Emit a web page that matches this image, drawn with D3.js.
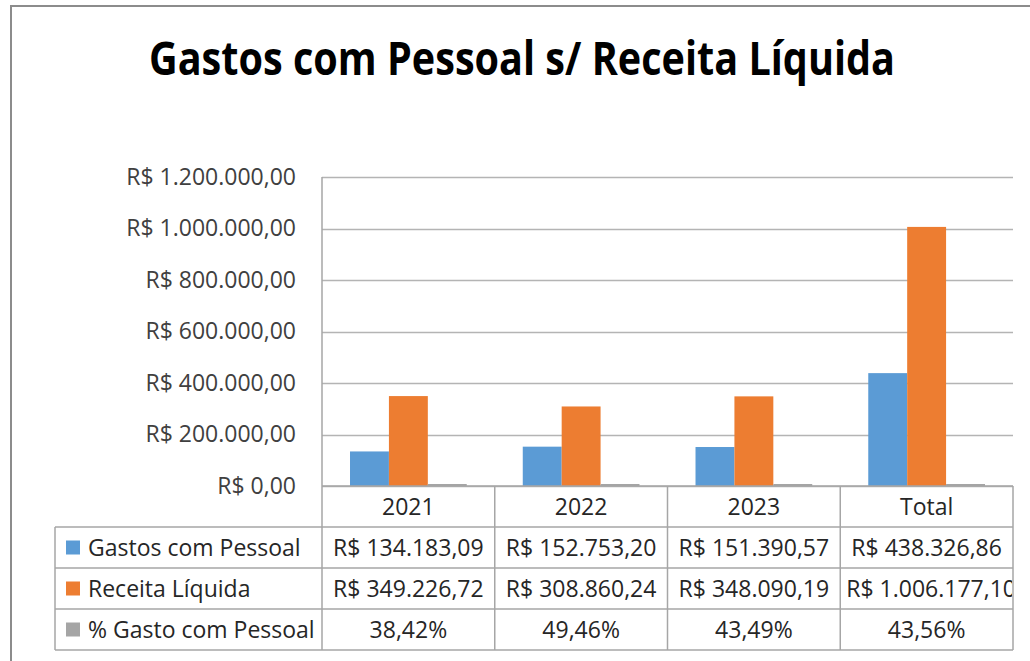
<!DOCTYPE html>
<html>
<head>
<meta charset="utf-8">
<script src="https://cdn.jsdelivr.net/npm/d3@7"></script>
<style>
  body { margin: 0; background: #fff; }
  svg { display: block; }
  text { font-family: "Open Sans", "Noto Sans", sans-serif; }
</style>
</head>
<body>
<svg id="chart"></svg>
<script>
// Dados
const categories = ['2021', '2022', '2023', 'Total'];
const seriesNames = ['Gastos com Pessoal', 'Receita Líquida', '% Gasto com Pessoal'];
const gastos = [134183.09, 152753.20, 151390.57, 438326.86];
const receita = [349226.72, 308860.24, 348090.19, 1006177.1];
const pctGasto = [0.3842, 0.4946, 0.4349, 0.4356];
const yTicks = [0, 200000, 400000, 600000, 800000, 1000000, 1200000];
const colors = ['#5B9BD5', '#ED7D31', '#A5A5A5'];

const W = 1030, H = 661;
const svg = d3.select('#chart').attr('width', W).attr('height', H);

const ptBR = d3.formatLocale({ decimal: ',', thousands: '.', grouping: [3], currency: ['R$ ', ''] });
const fmtMoney = ptBR.format('$,.2f');
const fmtPct = ptBR.format('.2%');

const plot = { left: 322, right: 1013, top: 177, bottom: 486 };
const tableLeft = 55, tableBottom = 650;

// Moldura externa
svg.append('path')
    .attr('d', `M11,${H} L11,6 L${W},6`)
    .attr('fill', 'none')
    .attr('stroke', '#8c8c8c')
    .attr('stroke-width', 2);

// Título
svg.append('text')
    .attr('x', 522)
    .attr('y', 75)
    .attr('text-anchor', 'middle')
    .attr('textLength', 746)
    .attr('lengthAdjust', 'spacingAndGlyphs')
    .style('font-family', '"Liberation Sans Narrow", "Open Sans", sans-serif')
    .style('font-size', '46px')
    .style('font-weight', 'bold')
    .style('fill', '#000')
    .text('Gastos com Pessoal s/ Receita Líquida');

// Escalas
const x0 = d3.scaleBand().domain(categories).range([plot.left, plot.right]);
const gap = 1.44;
const bw = x0.bandwidth();
const pad = bw * (gap / 2) / (3 + gap);
const x1 = d3.scaleBand().domain(d3.range(3)).range([pad, bw - pad]);
const y = d3.scaleLinear().domain([0, 1200000]).range([plot.bottom, plot.top]);

// Grid
svg.append('g')
    .selectAll('line')
    .data(yTicks)
    .enter()
    .append('line')
    .attr('x1', plot.left)
    .attr('x2', plot.right)
    .attr('y1', d => Math.round(y(d)) + 0.5)
    .attr('y2', d => Math.round(y(d)) + 0.5)
    .attr('stroke', '#b4b4b4')
    .attr('stroke-width', 1.3);

// Eixo Y (rótulos)
const yAxis = svg.append('g')
    .attr('transform', `translate(${plot.left},0)`)
    .call(d3.axisLeft(y).tickValues(yTicks).tickFormat(fmtMoney).tickSize(0).tickPadding(26));
yAxis.select('.domain').remove();
yAxis.selectAll('text')
    .style('font-family', '"Open Sans", sans-serif')
    .style('font-size', '23px')
    .style('fill', '#404040');

// Barras
const series = [gastos, receita, pctGasto];
series.forEach((vals, si) => {
    svg.append('g')
        .selectAll('rect')
        .data(vals)
        .enter()
        .append('rect')
        .attr('x', (d, i) => x0(categories[i]) + x1(si))
        .attr('width', x1.bandwidth())
        .attr('y', d => Math.min(y(d), plot.bottom - 2))
        .attr('height', d => Math.max(plot.bottom - y(d), 2))
        .attr('fill', colors[si]);
});

// Tabela de dados
const rows = d3.scaleBand().domain(['header', ...seriesNames]).range([plot.bottom, tableBottom]);
const grid = svg.append('g').attr('stroke', '#a6a6a6').attr('stroke-width', 1.5);

// linhas horizontais
seriesNames.forEach(n => {
    grid.append('line')
        .attr('x1', tableLeft).attr('x2', plot.right)
        .attr('y1', rows(n)).attr('y2', rows(n));
});
grid.append('line')
    .attr('x1', plot.left).attr('x2', plot.right)
    .attr('y1', plot.bottom).attr('y2', plot.bottom);
grid.append('line')
    .attr('x1', tableLeft).attr('x2', plot.right)
    .attr('y1', tableBottom).attr('y2', tableBottom);

// linhas verticais
grid.append('line')
    .attr('x1', tableLeft).attr('x2', tableLeft)
    .attr('y1', rows(seriesNames[0])).attr('y2', tableBottom);
grid.append('line')
    .attr('x1', plot.left).attr('x2', plot.left)
    .attr('y1', plot.top).attr('y2', tableBottom);
categories.forEach(c => {
    grid.append('line')
        .attr('x1', x0(c) + bw).attr('x2', x0(c) + bw)
        .attr('y1', plot.bottom).attr('y2', tableBottom);
});

const cellFont = '23px';
const textColor = '#262626';

// cabeçalho
svg.append('g')
    .selectAll('text')
    .data(categories)
    .enter()
    .append('text')
    .attr('x', d => x0(d) + bw / 2)
    .attr('y', rows('header') + rows.bandwidth() / 2 + 8)
    .attr('text-anchor', 'middle')
    .style('font-size', cellFont)
    .style('fill', textColor)
    .text(d => d);

// legenda das linhas
seriesNames.forEach((n, si) => {
    const cy = rows(n) + rows.bandwidth() / 2;
    svg.append('rect')
        .attr('x', 66).attr('y', cy - 7)
        .attr('width', 14).attr('height', 14)
        .attr('fill', colors[si]);
    svg.append('text')
        .attr('x', 88)
        .attr('y', cy + 8)
        .style('font-size', cellFont)
        .style('fill', textColor)
        .text(n);
});

// valores (o Excel corta o texto que não cabe na célula)
const defs = svg.append('defs');
series.forEach((vals, si) => {
    const n = seriesNames[si];
    const fmt = si === 2 ? fmtPct : fmtMoney;
    vals.forEach((v, i) => {
        const cx = x0(categories[i]);
        const id = `clip-${si}-${i}`;
        defs.append('clipPath').attr('id', id)
            .append('rect')
            .attr('x', cx + 1).attr('y', rows(n))
            .attr('width', bw - 2).attr('height', rows.bandwidth());
        const t = svg.append('text')
            .attr('clip-path', `url(#${id})`)
            .attr('x', cx + bw / 2)
            .attr('y', rows(n) + rows.bandwidth() / 2 + 8)
            .attr('text-anchor', 'middle')
            .style('font-size', cellFont)
            .style('fill', textColor)
            .text(fmt(v));
        if (t.node().getComputedTextLength() > bw - 6) {
            t.attr('text-anchor', 'start').attr('x', cx + 6);
        }
    });
});
</script>
</body>
</html>
